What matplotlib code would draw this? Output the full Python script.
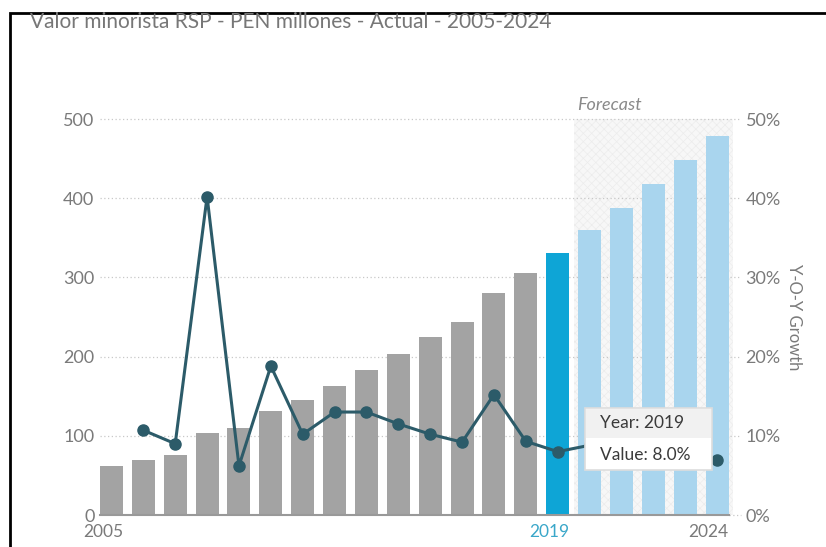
import matplotlib.pyplot as plt
import matplotlib as mpl
import numpy as np

mpl.rcParams['hatch.linewidth'] = 0.5
plt.rcParams['font.family'] = ['Lato', 'DejaVu Sans']

years = list(range(2005, 2025))
retail_value = [62, 69, 76, 104, 110, 131, 145, 163, 183, 203,
                225, 244, 280, 306, 331, 360, 388, 418, 448, 479]
growth_years = list(range(2006, 2025))
growth_pct = [10.7, 9.0, 40.2, 6.2, 18.8, 10.2, 13.0, 13.0, 11.5, 10.2,
              9.2, 15.2, 9.3, 8.0, 8.8, 7.8, 7.7, 7.2, 6.9]
shown_labels = {2005: '2005', 2019: '2019', 2024: '2024'}
current_year = 2019

GREY_BAR = '#a3a3a3'
CUR_BAR = '#0ea5d6'
FC_BAR = '#a9d5ee'
LINE = '#2c5b69'
TXT = '#7a7a7a'

fig = plt.figure(figsize=(8.26, 5.47), dpi=100)
ax = fig.add_axes([100 / 826, 1 - 515 / 547, 633 / 826, 396 / 547])
ax2 = ax.twinx()

x = np.arange(len(years))
w = 0.72
cur_i = years.index(current_year)
colors = [GREY_BAR if y < current_year else CUR_BAR if y == current_year else FC_BAR
          for y in years]

# forecast band
ax.axvspan(cur_i + 0.5, len(years) - 0.5, facecolor='#f7f7f7', edgecolor='#ececec',
           hatch='xxxx', linewidth=0, zorder=0)
ax.text(cur_i + 0.6, 508, 'Forecast', style='italic', color='#8a8a8a',
        fontsize=13, ha='left', va='bottom')

# dotted gridlines reaching out to the right labels
for v in range(100, 501, 100):
    ax.plot([-w / 2, len(years) - 0.5 + 0.25], [v, v], linestyle=(0, (1, 2)),
            color='#c8c8c8', linewidth=0.9, clip_on=False, zorder=0.5)
ax.plot([len(years) - 1 + w / 2, len(years) - 0.5 + 0.25], [0, 0], linestyle=(0, (1, 2)),
        color='#c8c8c8', linewidth=0.9, clip_on=False, zorder=0.5)

ax.bar(x, retail_value, width=w, color=colors, zorder=2)
ax.plot([-w / 2, len(years) - 1 + w / 2], [0, 0], color='#999999', linewidth=1.5,
        zorder=3, clip_on=False)

ax.set_xlim(-w / 2, len(years) - 0.5)
ax.set_ylim(0, 500)
ax.set_yticks(range(0, 501, 100))
ax.tick_params(axis='y', length=0, pad=4, labelsize=13, labelcolor=TXT)
ax.set_xticks([])
for y, lab in shown_labels.items():
    i = years.index(y)
    ax.text(i + w / 2, -11, lab, ha='right', va='top', fontsize=12.5,
            color='#3aa7c9' if y == current_year else TXT)

# growth line on right axis
gx = [years.index(y) for y in growth_years]
ax2.plot(gx, growth_pct, color=LINE, linewidth=2.2, marker='o', markersize=8,
         zorder=4)
ax2.set_ylim(0, 50)
ax2.set_yticks(range(0, 51, 10))
ax2.set_yticklabels([f'{v}%' for v in range(0, 51, 10)])
ax2.tick_params(axis='y', length=0, pad=9, labelsize=13, labelcolor=TXT)
ax2.set_ylabel('Y-O-Y Growth', rotation=270, color=TXT, fontsize=12, va='center')
ax2.yaxis.set_label_coords(1.097, 0.5)

for a in (ax, ax2):
    for s in a.spines.values():
        s.set_visible(False)

# hover tooltip for the current year
gi = growth_years.index(current_year)
box = mpl.patches.Rectangle((585 / 826, 1 - 470 / 547), 127 / 826, 62 / 547,
                            transform=fig.transFigure, facecolor='white',
                            edgecolor='#dddddd', linewidth=1.2, zorder=10)
fig.add_artist(box)
head = mpl.patches.Rectangle((586 / 826, 1 - 438 / 547), 125 / 826, 29 / 547,
                             transform=fig.transFigure, facecolor='#f1f1f1',
                             edgecolor='none', zorder=11)
fig.add_artist(head)
fig.text(600 / 826, 1 - 423 / 547, f'Year: {current_year}', fontsize=12.5,
         color='#3a3a3a', va='center', zorder=12)
fig.text(600 / 826, 1 - 455 / 547, f'Value: {growth_pct[gi]:.1f}%', fontsize=12.5,
         color='#3a3a3a', va='center', zorder=12)

fig.text(30 / 826, 1 - 22 / 547, 'Valor minorista RSP - PEN millones - Actual - 2005-2024',
         fontsize=15, color='#777777', va='center', ha='left')

# outer frame
frame = mpl.patches.Rectangle((10 / 826, -0.05), 1.1, 1 - 13 / 547 + 0.05,
                              transform=fig.transFigure, fill=False,
                              edgecolor='black', linewidth=2)
fig.add_artist(frame)

fig.savefig('out.png', dpi=100)
